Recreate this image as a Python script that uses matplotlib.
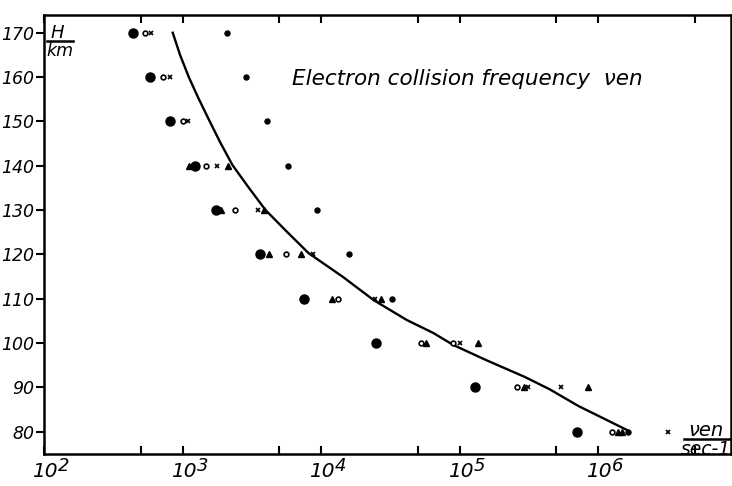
import matplotlib
matplotlib.use("Agg")
import matplotlib.pyplot as plt
from matplotlib.lines import Line2D

# ---- data ----
heights = [170, 160, 150, 140, 130, 120, 110, 100, 90, 80]
yticks = [80, 90, 100, 110, 120, 130, 140, 150, 160, 170]
xtick_exponents = [2, 3, 4, 5, 6]
xminor = [5e2, 5e3, 5e4, 5e5, 5e6]

# big filled dots
big_nu = [4.4e2, 5.8e2, 8.1e2, 1.24e3, 1.74e3, 3.6e3, 7.5e3, 2.5e4, 1.3e5, 7.1e5]

# small open circles
circ_H = [170, 160, 150, 140, 130, 120, 110, 100, 100, 90, 80]
circ_nu = [5.4e2, 7.2e2, 1.0e3, 1.48e3, 2.38e3, 5.6e3, 1.32e4, 5.3e4, 8.9e4, 2.6e5, 1.26e6]

# crosses
cross_H = [170, 160, 150, 140, 130, 120, 110, 100, 90, 90, 80]
cross_nu = [5.9e2, 8.1e2, 1.1e3, 1.77e3, 3.5e3, 8.7e3, 2.46e4, 1.0e5, 3.1e5, 5.4e5, 3.2e6]

# small triangles
tri_H = [140, 140, 130, 130, 120, 120, 110, 110, 100, 100, 90, 90, 80, 80]
tri_nu = [1.11e3, 2.12e3, 1.89e3, 3.9e3, 4.2e3, 7.2e3, 1.2e4, 2.7e4, 5.7e4, 1.37e5,
          2.9e5, 8.5e5, 1.4e6, 1.5e6]

# small filled dots
dot_H = [170, 160, 150, 140, 130, 120, 110, 80]
dot_nu = [2.1e3, 2.86e3, 4.05e3, 5.75e3, 9.4e3, 1.58e4, 3.27e4, 1.64e6]

# smooth curve
curve_H = [170.0, 165.0, 160.0, 155.3, 150.4, 145.3, 140.2, 135.3, 130.0, 125.2,
           120.3, 115.0, 109.7, 105.2, 102.3, 99.6, 96.2, 92.4, 89.6, 85.8, 80.4]
curve_nu = [850, 960, 1110, 1300, 1550, 1870, 2290, 2970, 3980, 5640,
            8130, 1.43e4, 2.40e4, 4.17e4, 6.46e4, 9.0e4, 1.55e5, 2.95e5, 4.47e5,
            7.24e5, 1.62e6]

title_text = "Electron collision frequency  \u03bden"

# ---- figure ----
plt.rcParams['font.family'] = ['DejaVu Sans']
fig = plt.figure(figsize=(7.32, 4.86), dpi=100)
ax = fig.add_axes([44/732, 1-454/486, (731-44)/732, (454-15)/486])
ax.set_xscale('log')
ax.set_xlim(1e2, 10**6.96)
ax.set_ylim(75.0, 174.0)

ax.plot(curve_nu, curve_H, color='black', lw=1.7, zorder=2,
        solid_joinstyle='round')
ax.plot(big_nu, heights, 'o', color='black', ms=6.5, zorder=3)
ax.plot(circ_nu, circ_H, 'o', mfc='white', mec='black', mew=1.2, ms=3.4, zorder=3)
ax.plot(cross_nu, cross_H, 'x', color='black', mew=1.2, ms=3.4, zorder=3)
ax.plot(tri_nu, tri_H, '^', color='black', ms=3.8, zorder=3)
ax.plot(dot_nu, dot_H, 'o', color='black', ms=3.6, zorder=3)

for s in ax.spines.values():
    s.set_linewidth(1.8)

# y ticks
ax.set_yticks(yticks)
ax.set_yticklabels([str(v) for v in yticks], fontsize=12.5, style='italic')
ax.tick_params(axis='y', direction='out', length=6, width=1.5, pad=1, left=True, right=False)

# x ticks
ax.set_xticks([10.0**e for e in xtick_exponents])
ax.set_xticks(xminor, minor=True)
ax.set_xticklabels(['' for _ in xtick_exponents])
ax.set_xticklabels(['' for _ in xminor], minor=True)
ax.tick_params(axis='x', which='both', direction='in', length=6, width=1.5,
               top=True, bottom=True)

for e in xtick_exponents:
    ax.annotate("10", xy=(10.0**e, 0), xycoords=('data', 'axes fraction'),
                xytext=(1, -8), textcoords='offset pixels', ha='center', va='top',
                fontsize=14.5, style='italic', annotation_clip=False)
    ax.annotate(str(e), xy=(10.0**e, 0), xycoords=('data', 'axes fraction'),
                xytext=(14, -3), textcoords='offset pixels', ha='left', va='top',
                fontsize=13, style='italic', annotation_clip=False)

# title inside
fig.text(292/732, 1-85/486, title_text, fontsize=15.5, style='italic',
         ha='left', va='baseline')

# H / km label
fig.text(57/732, 1-38/486, "H", fontsize=13, style='italic', ha='center', va='baseline')
fig.add_artist(Line2D([47/732, 73/732], [1-41/486, 1-41/486], color='black', lw=1.8))
fig.text(60/732, 1-56/486, "km", fontsize=12.5, style='italic', ha='center', va='baseline')

# nu_en / sec-1 label
fig.text(706/732, 1-436/486, "\u03bden", fontsize=14, style='italic', ha='center', va='baseline')
fig.add_artist(Line2D([684/732, 731/732], [1-439/486, 1-439/486], color='black', lw=1.8))
fig.text(706/732, 1-455/486, "sec-1", fontsize=13.5, style='italic', ha='center', va='baseline')

fig.savefig("out.png", dpi=100)
